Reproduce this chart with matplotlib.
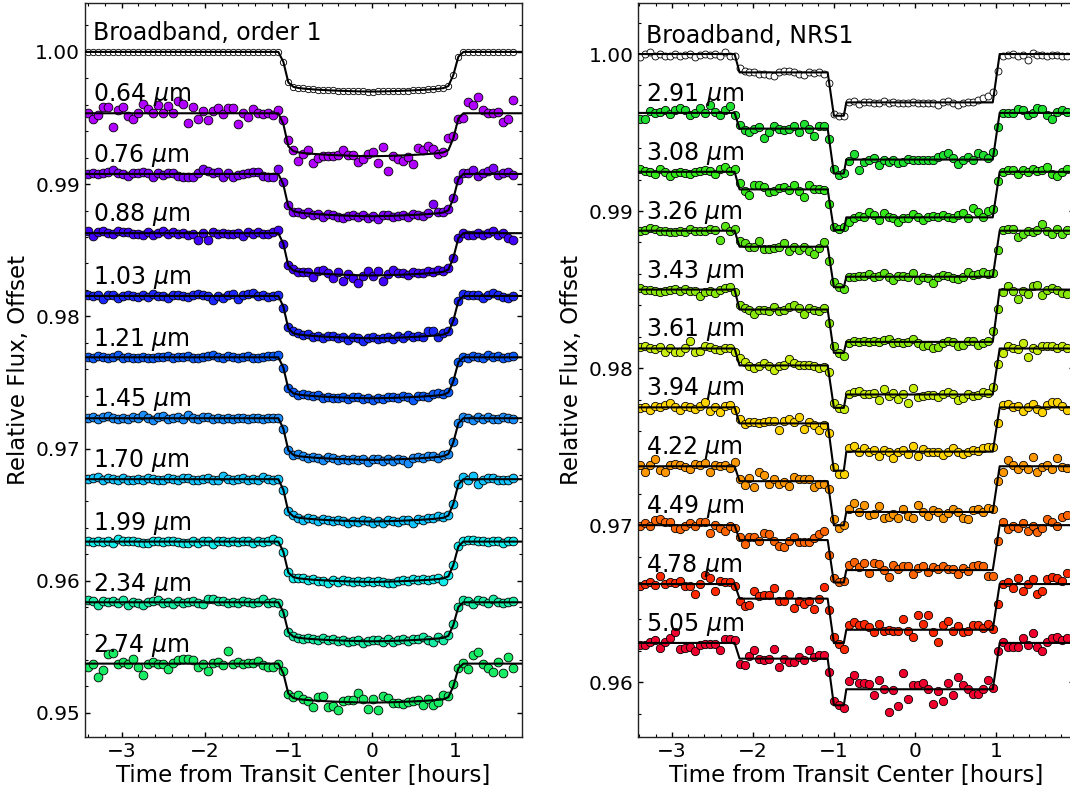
import numpy as np
import matplotlib
matplotlib.use("Agg")
import matplotlib.pyplot as plt
from matplotlib.ticker import MultipleLocator, FormatStrFormatter

# ---------------- time grids (bin centres, hours from mid-transit) ----------------
soss_t0, soss_dt, soss_n = -3.40, 0.06, 86
nrs_t0, nrs_dt, nrs_n = -3.39, 0.0612, 87
t_soss = soss_t0 + soss_dt * np.arange(soss_n)
t_nrs = nrs_t0 + nrs_dt * np.arange(nrs_n)

# ---------------- NIRISS/SOSS order 1: fitted transit shape (fraction of depth) ----------------
soss_knot_t = [-3.6, -1.12, -1.06, -1.00, -0.94, -0.88, -0.80, -0.70, -0.60, -0.50, -0.40,
               -0.30, -0.20, -0.10, 0.00, 0.10, 0.20, 0.30, 0.40, 0.50, 0.60, 0.70, 0.80,
               0.86, 0.92, 0.98, 1.04, 1.10, 2.0]
soss_knot_shape = [0, 0, 0.25, 0.77, 0.88, 0.910, 0.928, 0.945, 0.958, 0.969, 0.978,
                   0.986, 0.992, 0.997, 1.000, 0.997, 0.992, 0.986, 0.978, 0.969, 0.958, 0.945, 0.928,
                   0.912, 0.86, 0.58, 0.12, 0, 0]

soss_labels = ["Broadband, order 1", r"0.64 $\mu$m", r"0.76 $\mu$m", r"0.88 $\mu$m",
               r"1.03 $\mu$m", r"1.21 $\mu$m", r"1.45 $\mu$m", r"1.70 $\mu$m",
               r"1.99 $\mu$m", r"2.34 $\mu$m", r"2.74 $\mu$m"]
soss_colors = ["white", "#b000ff", "#8000ff", "#4200ff", "#1a26ff", "#0a5cff",
               "#1a8eff", "#12c4ff", "#14ecec", "#18eca4", "#18ec64"]
soss_base = [1.00000, 0.99536, 0.99077, 0.98629, 0.98154, 0.97690,
             0.97229, 0.96768, 0.96296, 0.95837, 0.95373]
soss_depth = [30.0, 32.5, 32.0, 32.0, 32.0, 31.0, 31.5, 32.0, 30.5, 29.5, 29.5]   # 1e-4

# residuals from the transit model, units of 1e-4
res_bb1 = [0.1, 0, 0.2, 0, -0.1, 0.1, 0, 0.1, -0.1, 0, 0.2, 0.1, 0, -0.1, 0, 0.1, 0, 0.2, 0, -0.1,
           0, 0.1, 0, 0.1, -0.1, 0, 0.1, 0, 0.2, 0, -0.1, 0, 0.1, 0, 0, 0.1, 0, 0.1, 0.2,
           0,
           0, 0, 0.2, 0.1, 0, 0.2, 0, 0.1, -0.1, 0, 0.1, 0, -0.1, 0, 0.1, 0, 0, -0.1, 0, 0.1,
           0, -0.1, 0, 0.1, 0, 0, 0.1, 0, 0.1, 0.2, 0.3, 0.3, 0.2, 0, 0,
           0.2, 0.1, 0, 0.1, 0.1, 0, -0.1, 0.1, 0, 0.1, 0]
res_064 = [0, -4, -1, 5, 4.5, -10.5, 2.5, 5, -2, -4.5, 0, 7, 3, 0, 6, 0, 5.5, 0, 9, 7,
           -7, 4.5, -4.5, 1.7, -5, 2, 3.7, -0.5, 3.7, 3.7, -8, 0, -3, 3, 0.5, -0.7, 0, -1, 2.5,
           3,
           5, 1, -6.5, -0.9, 2.7, -6.8, -2.8, -1.3, -0.6, -0.4, 0.5, 3.9, 0.7, 0.7, -4.2, -2.4,
           1.8, 2.8, -5.4, 7.1, -11.8, -0.5, -2.7, -4.5, -1.3, -6.8, 5.1, 3.1, 5.9, 3.5,
           -0.5, 0.6, 9, 1.8, -0.6,
           -3.8, 8.8, 6.3, 12.6, 2.5, 0, 0, 1.3, -6.3, -4.5, 10]
res_076 = [0, 0.4, 0, 0.4, 1.2, 2.8, 0.7, 0, -1.4, 0.7, 0.4, 1.2, 0.4, -2.2, 0.4, -0.5, 0.7, 0.4,
           -1.4, -2.2, -2.2, -2.2, 0.4, 3.8, 2.5, 0.4, 1.2, -2.2, 0.4, -2.2, -0.5, 0, 0.4, 1.2,
           1.8, -1.8, -2.2, -2.2, 3.5,
           2,
           1, -1, 0.5, -1, 1, -0.5, 0, -1.5, 0.5, 0, -1.5, -2, 0, 1, -0.5, 1, -1, 0, -2, 0.5,
           1, -1, -0.5, 0, -1.5, 1, 0, -1, 0.5, 7.5, 1, 0.5, 1, 0, -0.7,
           0.7, 0.4, 3, -1.4, 0.7, 2.1, 4.8, -0.6, 0.4, 1.3, -0.6]
res_088 = [1.5, -2, 0.8, 1.5, 0.3, -0.8, 1.5, 1.2, 0.8, -0.3, -0.8, -1.5, 0.8, -1.5, 0.5, 1.5,
           -0.8, 0.8, -0.8, 0.4, -1.5, -0.8, -5, 0.3, -5, 0.8, -0.8, 0.5, -0.4, -0.8, 0.3, -2,
           0.8, -0.8, 0.8, -0.3, -0.8, 0.8, 2.2,
           0,
           0.5, 0.8, -0.5, 0.3, 0.8, -3, 1.5, 3, 0.8, -3, 2.2, -4.5, 0.8, -2.2, -6, -0.8, 3,
           -0.5, 3, -4.5, 0.8, 3.5, 1.5, 1.5, -0.5, 1.5, 0.3, 0.8, 1.5, 0.8, 1.5, 0.8, 1.5, 0, 0,
           0.3, -1.5, -1.5, 0.4, -1.5, 0.3, 1.8, -1.5, 0.3, -3.5, -5]
res_103 = [0.4, -0.3, 0.8, -2.2, 0.8, 0.8, -1.5, 0.3, 0.8, -0.4, -0.8, 0.4, -0.8, 1.5, 0.3,
           -0.3, -1.5, 0.8, 0.8, 0.3, -0.8, 0.8, 1.5, 0.8, -0.3, -3, 0.3, -1.5, 0.4, 1.5, -2.2,
           0.8, 1.5, 2.2, 0.3, 0.8, -0.8, 0.3, 0.4,
           -1,
           0.8, 1.5, 0.8, -0.3, 0.8, -0.8, 0.3, -0.8, 0.4, 0.8, -0.8, 0.3, -1.5, 0.8, -0.3,
           -2.2, 0.3, 0.8, -0.8, 0.4, 0.8, -0.8, 1.5, -0.8, 1.5, 0.3, 0.8, -0.8, 3.5, 3.5,
           -1.5, 0.8, 0.8, 0, 0,
           1.5, 0.8, 0.8, 0.8, -1.5, 0.8, 2.2, 0.8, -0.8, -1.5, 0.3]
res_121 = [0.3, -0.3, 0.8, 0.3, -0.4, 0.3, 1.5, -0.3, 0.4, -0.8, -0.8, 0.3, -0.4, -0.8, 0.3,
           0.4, 0.8, -0.3, 0.3, 0.4, 0.8, -0.3, -0.8, 0.3, 0.8, 1.5, 0.3, -0.4, 0.8, 0.3, -0.3,
           0.4, 0.8, -0.3, -0.8, 0.3, 0.8, 0.8, 1.5,
           0,
           0.3, 0.8, -0.3, 0.8, 0.4, -0.3, 0.8, -0.8, 0.3, -0.4, -0.8, 0.3, -0.8, 0.4, 0.8,
           -0.3, 0.3, -1.5, 0.3, -0.4, 0.8, 0.3, -0.3, 0.8, 0.4, -2.2, 0.8, 0.3, -0.4, 1.5,
           1.5, 0.8, 0.3, 0, 0,
           0.3, -0.3, 0.8, 0.3, -0.4, 1.5, 0.3, 0.8, -0.3, 0.4, 0.8]
res_145 = [0.3, 0.8, -0.3, 0.8, 1.5, 0.3, -0.4, 0.3, -0.8, 0.8, 0.4, 2.2, 0.3, -1.5, 0.8, 1.5,
           -0.3, 0.3, 0.8, -0.8, 2.2, 0.4, -0.3, 0.8, 0.8, -0.4, 0.3, -0.8, 0.4, -0.3, 0.3, 0.4,
           -0.3, 0.3, 0.4, -0.3, 0.3, 0.4, 0.3,
           0,
           0.3, -0.3, 1.5, 0.3, -0.8, 0.8, -0.3, -1.5, 0.8, 0.3, -0.8, 0.4, -0.3, 0.3, -0.4,
           0.8, -1.5, 0.3, 0.8, -0.8, 0.8, -1.5, 0.3, -0.8, -3, 0.8, 0.8, -0.3, 1.5, 0.8,
           -0.8, 0.8, 0.3, 0, 0,
           0.8, 0.3, -1.5, 0.8, -0.3, 0.8, -0.8, -0.8, 0.8, 0.3, -0.3]
res_170 = [0.3, 0.8, 1.5, -0.3, 0.8, 0.3, -0.8, 0.8, -0.3, -0.8, 0.4, -0.3, 0.8, 0.3, -0.8,
           -0.8, 0.8, 0.3, -0.3, 0.8, 0.8, -0.3, -0.8, 0.3, 0.8, -0.4, -0.8, 2.2, 0.3, -0.4,
           0.3, 0.8, -0.8, 0.3, -0.3, 1.5, 0.4, -0.3, 0.3,
           0,
           0.8, 0.8, -0.3, -1.5, 0.8, 0.3, -0.8, 0.4, -0.3, -0.8, 0.3, -0.4, -1.5, 0.3, -0.8,
           0.8, 0.3, -0.8, 0.4, -1.5, 0.8, -0.3, -0.8, 0.8, 0.3, -2.2, 0.8, -0.3, 0.8, 0.4,
           1.5, 0.8, 0.3, 0, 0,
           1.5, -0.8, 2.2, -3.5, -0.8, 0.8, 0.8, -0.3, -0.8, -0.8, 0.8]
res_199 = [0.3, -0.3, 0.4, -0.3, 0.8, -0.8, 2.2, 0.3, 0.8, 0.8, -0.3, -0.8, -0.8, 0.8, 0.3,
           -0.4, 0.8, 0.3, -0.3, -0.8, -0.8, 0.3, -0.8, 0.4, 0.8, -1.5, 0.3, 0.8, -0.3, 0.4,
           -0.3, 0.8, 0.8, -0.8, 0.3, -0.4, 0.8, 2.2, 0.8,
           0,
           0.3, -0.8, 0.4, 0.8, -0.3, 0.3, -0.8, -0.8, -2.2, 0.3, -0.4, 0.8, 0.3, -0.3, 0.4,
           -0.3, 0.8, 0.3, 0.8, -0.4, -0.8, -0.8, 0.3, 0.8, -0.3, 1.5, 0.3, 0.8, -0.4, 0.3,
           0.8, -2.2, 0.8, 0, 0,
           0.8, 1.5, 1.5, 0.8, 0.8, -0.3, 0.8, 0.3, -0.8, 0.8, 0.3]
res_234 = [1.5, 0.8, -2.2, 0.8, 0.3, 0.8, -0.3, 1.5, -2.2, 0.4, -0.3, -2.2, 0.3, 0.8, 1.5,
           -0.8, 0.4, -1.5, 0.8, -0.3, 0.4, 0.8, -0.3, -1.5, 2.2, 2.2, 0.8, 0.8, -0.4, 0.3,
           -0.8, 0.8, 0.3, -0.8, 0.4, 2.2, -0.8, 0.3, -0.4,
           -0.5,
           0.4, 0.8, -0.3, -0.8, 0.8, 0.3, -0.4, 1.5, 0.3, 0.8, -0.3, 0.8, -0.8, 0.3, 0.8,
           -1.5, 0.3, 0.8, 0.8, -0.4, 1.5, -0.8, 0.8, 1.5, -0.3, 0.8, 0.3, 2.2, -0.4, -2.2,
           0.8, -1.5, 0.3, 0.8, 0,
           1.5, 0.8, -1.5, 1.5, 0.8, -0.8, 2.2, 0.3, -0.8, 0.3, 0.8]
res_274 = [-2.3, 0, -9.8, -4.8, 7.3, 7.8, 0, 1.5, 0, 3.3, -2.3, -8.6, 0, 1.5, 0, 0, -4.3, 0.8,
           2.8, 3.3, 3.3, 2.8, -2.3, 0, -5.3, 0.8, 1.5, -1, 9.8, 0, 1.5, 0, 0.8, 0.8, 2.3, -1,
           -2.3, -2.3, 0,
           2,
           0, 0.5, 3, 0.5, -1, -5, 2.5, 4, -4.5, -3, -6.5, 1, 1.5, 1.5, 7, 2.5, -5, 2.5, -6, 4.5,
           3.5, -0.5, -0.5, -2, 0, 0, 0.5, -3, 1.5, -3.5, -1.5, 3, 1, 2, 0,
           0.8, -4.3, 6.5, 9, 0, -3.5, -6, 1.5, -7.3, 4.8, -3.5]
soss_resid = [res_bb1, res_064, res_076, res_088, res_103, res_121,
              res_145, res_170, res_199, res_234, res_274]

# ---------------- NIRSpec NRS1: step (tilt event), spot-like dip, transit ----------------
nrs_knot_t = [-3.6, -2.227, -2.166, -1.08, -1.003, -0.881, -0.85, 0.955, 1.04, 2.1]
nrs_step_w = [0, 0, 1, 1, 0, 0, 0, 0, 0, 0]
nrs_dip_w = [0, 0, 0, 0, 1, 1, 0, 0, 0, 0]
nrs_tran_w = [0, 0, 0, 0, 0, 0, 1, 1, 0, 0]

nrs_labels = ["Broadband, NRS1", r"2.91 $\mu$m", r"3.08 $\mu$m", r"3.26 $\mu$m",
              r"3.43 $\mu$m", r"3.61 $\mu$m", r"3.94 $\mu$m", r"4.22 $\mu$m",
              r"4.49 $\mu$m", r"4.78 $\mu$m", r"5.05 $\mu$m"]
nrs_colors = ["white", "#1ee030", "#34e81a", "#5ae614", "#88e80a", "#c8ee0c",
              "#ffd400", "#ff9800", "#ff6400", "#ff2800", "#f0002c"]
nrs_base = [1.00000, 0.99625, 0.99250, 0.98875, 0.98500, 0.98125,
            0.97750, 0.97375, 0.97000, 0.96625, 0.96250]
nrs_step = [11.7, 10.0, 11.2, 10.2, 12.7, 10.8, 10.2, 9.5, 9.5, 9.3, 10.0]    # 1e-4
nrs_dip = [39.3, 38.6, 37.1, 36.0, 40.3, 37.8, 40.3, 37.6, 36.5, 37.6, 39.7]   # 1e-4
nrs_depth = [30.8, 29.7, 29.0, 29.3, 33.3, 29.3, 28.2, 29.1, 28.6, 29.1, 29.5]  # 1e-4

res_bb2 = [-2, 0, 1, -1, 0, -1.5, -1, 0, -1, -0.5, 0, -2, -0.5, 0, -0.5, 0, -1.5, 1, -1, -1,
           3, 1, 0, 0, -1, -1, -1.7, -2, 0, 1, 1, 0, -1, -1.7, 0, -0.5, 0.5, -1,
           -1.3, 1, 0, 0,
           0, 0.6, -1, 0, 0.4, -0.6, -0.6, 0.6, -0.4, 0, -0.4, -0.6, -0.6, 0.4, -0.6, -0.4,
           -0.6, -0.6, -1.7, 0, 0.6, -0.4, -1.5, -0.4, 0.4, 0, 1.7, 2.5, 4.2, 6.4,
           -2.5,
           -1, -0.6, 0, -1, -0.6, -3.6, 0.6, -0.6, -0.4, -1, -0.4, -0.6, -1, -1]
res_291 = [-3.6, -3.6, 1.3, 0, 0.6, 1.7, -0.8, 1.7, 3.4, 1.7, -1.5, 0, 3.4, 0, 4.9, 0.6, -1.5,
           1.7, 4.2, -1.5,
           2.1, -1.1, -2.1, 0, 1.1, -5.7, -2.1, 1.5, 0, -0.6, 0, 1.5, -2.1, 2.8, 0, -4.9, 1.5, 1.5,
           -0.6, 3, -1, 0.5,
           -0.8, 3.6, -6.4, -1.5, -0.4, 1.3, -3.6, -0.4, -1.5, 0, -2.5, -1.5, 0.6, 0, 0, 0,
           -0.4, -0.4, 1.7, 2.8, 4.2, 1.3, -3, 0, 1.7, 0, 4.2, 2.8, 1.3, 4.9,
           -1,
           0, 0, 0, 2.8, 2.1, -1.5, 0, 3.4, 2.8, -1.5, -3.6, 0.6, 2.1, 0.6]
res_308 = [2.1, 0.6, 0, -1.1, 2.1, 0, -2.8, -0.6, 0, -0.6, -1.1, 0, 0.6, 1.1, 0.6, -1.1, 1.5,
           3.2, 0.6, 1.5,
           3.8, -0.8, -3.6, 2.8, 2.8, 1.7, -1.5, -0.8, 0.6, 1.7, -0.4, 2.8, -0.8, -5.1, 2.8, 0,
           0, -0.4,
           -3.8, 2, 0.4, 1.7,
           -2.8, -0.6, 0.8, 0.4, 3.6, 1.5, -1.7, 3, 0.4, -0.6, -2.8, -0.6, -0.6, 2.1, 0.4, -1.7,
           0, 0.8, 0, 1.5, 0.4, -0.6, 1.5, 2.5, -0.6, 5.7, 3.6, 0.4, 4.2, 5.1,
           2.3,
           0, 1.1, 1.1, -1.1, 1.1, 0, 2.1, 0.6, 1.1, 3.2, -1.1, -2.8, 0, 2.1]
res_326 = [-0.4, 0.4, 1.7, 1.1, 0, -0.4, -1.1, -1.1, 0, -1.1, 1.1, 0, -0.4, 0, 1.1, 0.4, -5.9,
           3.2, -0.4, 1.1,
           3.8, 2.1, -0.4, -0.4, 3.8, -1.5, -1.5, -0.8, 0, 2.1, -2.5, 0, -2.1, -0.4, -2.5, -4.7,
           -0.8, 2.8,
           -3.8, 3, 0, -1,
           0, 0, 0.6, 0.6, 1.7, 0, 0.6, 2.1, 0, -2.1, 0.6, 0.6, 0, 2.1, -2.1, 0, -0.8, -4.2,
           -0.4, 1.3, 0.6, -0.8, -1.5, 0, 2.8, 1.3, 1.7, 2.8, 1.7, 2.1,
           -4,
           0.4, 1.1, 1.1, -4.2, -2.1, 0, -1.1, 0.4, 4.2, -0.4, -2.1, 1.1, -2.1, 0.4]
res_343 = [1.1, 0, 0, -1.1, -1.5, -1.1, 0, 0.6, -1.1, 0.6, -0.6, -1.1, -4.2, -1.5, -1.1, -2.1,
           0, 1.1, 1.5, -1.5,
           3.2, 1.1, 0, -2.8, -0.6, 0, -1.1, 1.5, -1.1, 0, 1.5, 2.8, 1.1, -2.8, 1.1, 0, -1.1, 1.1,
           -3, 4, 0, -2.1,
           -0.6, 0.4, 0, 0.8, 0, 0.8, 0, 1.5, 2.1, -0.6, 0, -0.6, 0, 2.1, -0.6, -2.8, -2.1,
           -3.8, -3.4, -0.6, 0.8, 0, -2.8, -2.1, 0.4, 0.8, -2.1, -0.6, 0.8, 6.8,
           -2.8,
           -1.5, 2.1, -0.6, -5.7, -1.1, -2.8, 2.1, 3.2, -3.2, 0, 1.1, 0, -2.1, -2.8]
res_361 = [1.1, 1.9, 0.4, -0.6, 1.1, -2.3, 0.4, -2.3, -2.3, 0.4, 4.7, -2.3, -1.7, 1.9, 1.1,
           -0.2, -1.1, 0.4, 0.4, -2.3,
           4.9, 2.1, -0.4, -1.5, -0.4, 1.3, -0.4, -3, -0.4, 0.6, 4.2, 1.7, 0.6, 0, 0.6, -0.4,
           -1.5, -0.8,
           1, 3, 0, -0.6,
           0.6, 1.5, 2.1, 0.6, 0, 1.1, -3.2, 3.2, -1.1, 1.1, -2.8, 0.6, -5.3, 4.2, -1.5, -1.1,
           -0.6, -0.6, -1.5, 0, 1.5, 0, -3.2, -2.1, 0.6, -1.1, -0.6, 1.5, 1.1, 4.9,
           -1.5,
           -2.8, 1.9, 0.4, -0.6, 3.6, -5.3, 0.4, -1.1, 1.9, 1.9, 1.5, 0.4, 1.9, 0.4]
res_394 = [-0.6, 0, -1.5, 1.1, 0, 1.5, 2.8, 0, -1.5, 1.1, 0, -1.1, 0.6, 3.6, -2.1, 0, -3.2,
           1.1, 1.5, -1.5,
           2.8, -0.4, 0.6, 1.1, 0.2, 0.6, 1.7, 1.7, -4, 1.7, 2.8, 1.1, 3.8, -3.6, 0.6, -1.1,
           -4, -1.1,
           0.2, 2, -2, -2,
           2.1, 3.4, -0.4, 2.1, -0.4, 1.3, -2.5, 1.3, -0.4, -4.2, -0.4, 1.3, -1.5, 3.4, -2.5,
           1.7, -0.4, 0, -0.4, -2.1, 0, 2.1, 0, -1.5, -0.4, 1.3, 0.6, 2.1, 2.8, 2.8,
           -2.1,
           1.5, 2.1, 0, 0.6, -2.1, 0, 2.1, -1.1, -2.8, 1.5, 3.2, 3.6, 1.1, -1.5]
res_422 = [1.1, -3.6, 1.1, 4.5, -2.5, -3.6, 1.1, 1.7, 0.6, -0.4, -1.5, 1.7, 1.1, 2.3, -3.6,
           1.1, 0, 0.6, -1.1, 2.8,
           1.7, -2.5, 2.1, -3.6, 5.9, 4.2, -1.5, 1.3, -2.1, -0.4, -3, 2.8, 1.7, 1.7, 1.3, -3.6,
           -1.5, -2.1,
           0.8, 4, -2, 0,
           2.1, 5.9, 0, 4.2, -2.1, -1.1, 3.8, -3.8, -3.2, -1.1, -3.8, 1.7, -2.5, -3.8, 4.2, 0,
           -2.5, 1.1, 0, -3.8, -0.4, 2.1, 0, -3.8, -4.7, 1.1, 2.1, 0, 2.5, 2.1,
           -1.3,
           -3.6, 3.8, 1.1, -1.5, 1.1, -1.5, 5.9, -3.6, -0.4, 1.1, -1.5, 5.3, -0.4, -1.1]
res_449 = [-0.4, 1.3, -0.4, 3.4, 3.8, 1.7, 2.1, -2.1, -2.5, -0.4, 1.3, -0.4, 2.1, 2.1, -5.1,
           0, -1.5, -3.6, -0.4, -2.1,
           1.7, -2.5, 1.7, 1.7, -0.4, 4.5, 3.8, -0.4, -3.6, -4.7, -0.4, 1.7, -1.5, -1.5, -1.5,
           1.1, 3.8, 5.9,
           -4.2, 3, 0, 1,
           3.2, 4.9, 1.7, 4.5, -1.9, 4.2, 3.8, 0.2, -4.7, 3.2, 0.6, 2.3, 2.3, -2.5, 1.1, 2.3,
           -1.1, 1.7, 0.6, 2.3, 0.6, 0.6, -2.5, 1.1, -0.4, 2.3, 3.2, 2.3, -4, -4,
           -2.4,
           1.7, -2.5, -0.4, -2.1, 1.3, -3.6, -0.4, -4.2, -2.1, 4.2, 1.7, -0.4, 4.9, 6.4]
res_478 = [-1.5, 0, 1.3, -0.4, 4.9, 0, 1.1, 0.6, 2.1, -1.5, -1.5, -6.4, 0, 5.9, 3.8, -4.7,
           1.7, 1.3, 1.3, -1.5,
           -1.3, -4.9, -3.8, 4.7, 1.5, 2.5, 2.5, 6.8, -1.7, -1.7, 3, -5.9, -1.7, -3.4, -1.3,
           -6.4, 0, 7.2,
           -1.3, 4, -0.6, -3.6,
           3.2, 4.9, 3.2, 3.6, 1.5, -1.5, 3.6, -0.6, 0, -0.6, -0.6, 7, -1.1, -4.9, 9.1, 3.6,
           9.1, -1.5, -7.9, 2.8, 5.3, -1.1, 2.1, -1.5, -0.6, 3.2, 2.8, 1.1, 3.6, 0.6,
           -4.5,
           0, 1.3, -2.5, 3.8, -4.7, 0, 3.4, -6.4, -4.7, 3.4, 4.2, 3.8, 2.1, 7]
res_505 = [-1.5, -1.5, 0.6, 1.7, -3.2, 0.6, 3.2, 7, -3.6, -3.2, -2.5, -5.3, -1.5, -0.8, -0.8,
           -0.8, -4.7, 2.3, 2.8, 2.1,
           -3.2, -4.2, 1.7, 5.3, 0, -1.1, 0, 6.4, -5.3, 0, -2.1, -2.1, 1.1, -1.1, 5.3, 1.1,
           2.1, 2.1,
           -2.5, 2.5, 0.4, -2.1,
           5.1, 8.9, 4.2, 4.2, 3.6, -3.4, 5.7, 0, -14.4, -0.6, -10.8, 10.6, -5.9, 2.5, 3, 4.2,
           0, -9.1, -1.3, -7.6, 4.2, -3.4, 7.9, 2.5, 0.4, -2.8, -2.8, 0, 5.7, 0.8,
           3.2,
           0.6, -2.5, -2.5, -2.5, 3.2, -1.5, 6.6, -2.5, -5.3, 0.6, 3.2, 3.8, 1.7, 3.2]
nrs_resid = [res_bb2, res_291, res_308, res_326, res_343, res_361,
             res_394, res_422, res_449, res_478, res_505]

# ---------------- figure ----------------
W, H = 1070, 788
fig = plt.figure(figsize=(W / 100, H / 100), dpi=100)
axL = fig.add_axes([85 / W, 51 / H, 436.7 / W, 734 / H])
axR = fig.add_axes([638.3 / W, 51 / H, 436.0 / W, 734 / H])

# left panel: SOSS order 1
soss_shape_at_t = np.interp(t_soss, soss_knot_t, soss_knot_shape)
for lab, col, base, dep, res in zip(soss_labels, soss_colors, soss_base, soss_depth, soss_resid):
    res = np.asarray(res, float)
    assert res.size == soss_n, (lab, res.size)
    flux = base + 1e-4 * (res - dep * soss_shape_at_t)
    is_bb = lab.startswith("Broadband")
    axL.plot(t_soss, flux, "o", ms=4.6 if is_bb else 6.3, mfc=col, mec="black",
             mew=0.6, zorder=2)
    axL.plot(soss_knot_t, base - 1e-4 * dep * np.asarray(soss_knot_shape), "-",
             color="black", lw=1.5, zorder=3)
    axL.text(-3.345, base + 0.00089, lab, fontsize=17, ha="left", va="baseline", zorder=4)

# right panel: NIRSpec NRS1
step_at_t = np.interp(t_nrs, nrs_knot_t, nrs_step_w)
dip_at_t = np.interp(t_nrs, nrs_knot_t, nrs_dip_w)
tran_at_t = np.interp(t_nrs, nrs_knot_t, nrs_tran_w)
for lab, col, base, st, dp, dep, res in zip(nrs_labels, nrs_colors, nrs_base, nrs_step,
                                            nrs_dip, nrs_depth, nrs_resid):
    res = np.asarray(res, float)
    assert res.size == nrs_n, (lab, res.size)
    flux = base + 1e-4 * (res - st * step_at_t - dp * dip_at_t - dep * tran_at_t)
    is_bb = lab.startswith("Broadband")
    axR.plot(t_nrs, flux, "o", ms=5.0 if is_bb else 6.0, mfc=col, mec="black",
             mew=0.6, zorder=2)
    line = base - 1e-4 * (st * np.asarray(nrs_step_w) + dp * np.asarray(nrs_dip_w)
                          + dep * np.asarray(nrs_tran_w))
    axR.plot(nrs_knot_t, line, "-", color="black", lw=1.5, zorder=3)
    dy = 0.00068 if is_bb else 0.00077
    axR.text(-3.315, base + dy, lab, fontsize=17, ha="left", va="baseline", zorder=4)

axL.set_xlim(-3.44, 1.80)
axL.set_ylim(0.94818, 1.0037)
axR.set_xlim(-3.414, 1.96)
axR.set_ylim(0.95651, 1.00325)

for ax in (axL, axR):
    ax.xaxis.set_major_locator(MultipleLocator(1))
    ax.xaxis.set_minor_locator(MultipleLocator(0.2))
    ax.yaxis.set_major_locator(MultipleLocator(0.01))
    ax.yaxis.set_minor_locator(MultipleLocator(0.002))
    ax.yaxis.set_major_formatter(FormatStrFormatter("%.2f"))
    ax.tick_params(which="both", direction="in", top=True, right=True,
                   labelsize=14.5, colors="black")
    ax.tick_params(which="major", length=3.6, width=1.0)
    ax.tick_params(which="minor", length=2.0, width=0.8)
    for sp in ax.spines.values():
        sp.set_linewidth(1.0)
        sp.set_color("#222222")
    ax.set_xlabel("Time from Transit Center [hours]", fontsize=16.5, labelpad=2.5)
    ax.set_ylabel("Relative Flux, Offset", fontsize=16.5)

fig.savefig("out.png", dpi=100)
